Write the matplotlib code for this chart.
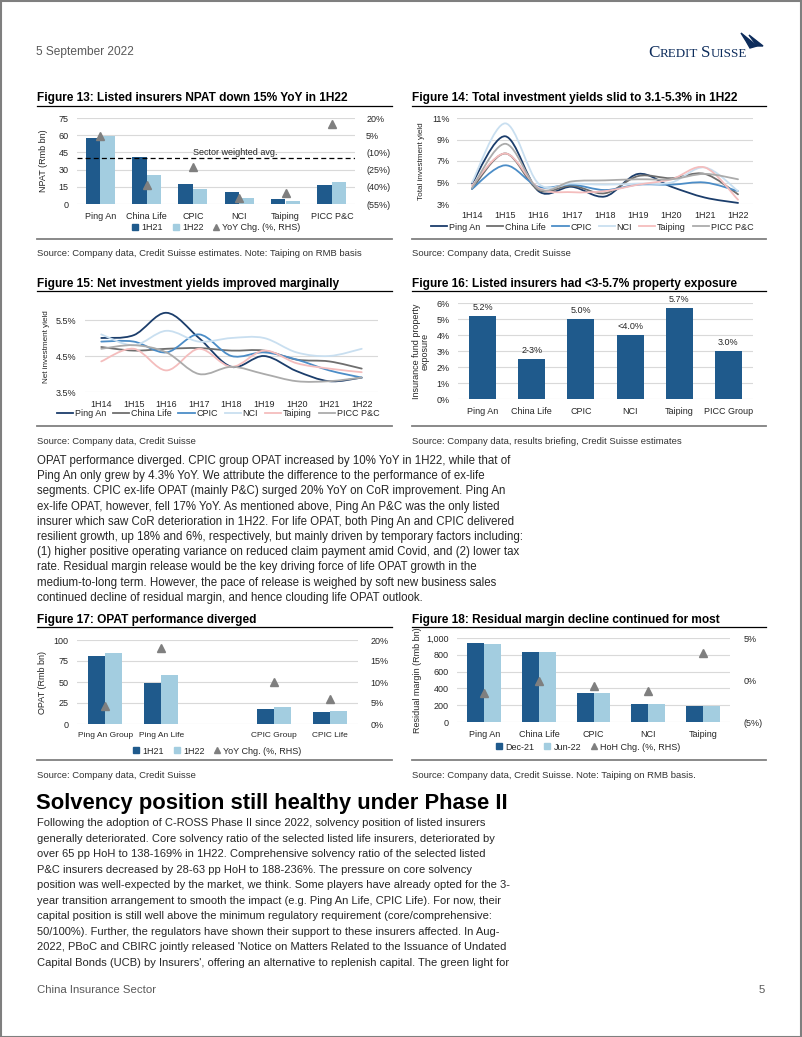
import numpy as np
import matplotlib
matplotlib.use('Agg')
import matplotlib.pyplot as plt
from matplotlib.path import Path
from matplotlib.patches import PathPatch, Rectangle, Polygon
from matplotlib.lines import Line2D
from matplotlib import font_manager as fm

# ---------------- data ----------------
npat_cos = ['Ping An', 'China Life', 'CPIC', 'NCI', 'Taiping', 'PICC P&C']
npat_1h21 = [57.5, 41.0, 17.2, 10.5, 4.3, 16.4]
npat_1h22 = [59.7, 25.3, 13.1, 5.2, 2.2, 19.0]
npat_yoy = [4, -38, -23, -50, -45, 15]
npat_sector_avg = -15

periods = ['1H14', '1H15', '1H16', '1H17', '1H18', '1H19', '1H20', '1H21', '1H22']
series_names = ['Ping An', 'China Life', 'CPIC', 'NCI', 'Taiping', 'PICC P&C']

tiy_pingan = [4.9, 9.3, 4.2, 4.6, 3.7, 5.8, 4.6, 3.6, 3.1]
tiy_chinalife = [4.4, 7.7, 4.3, 4.7, 4.0, 5.6, 5.4, 5.8, 3.9]
tiy_cpic = [4.4, 6.6, 4.6, 4.8, 4.3, 4.8, 4.8, 5.0, 4.2]
tiy_nci = [5.0, 10.5, 4.9, 4.9, 4.8, 4.9, 5.0, 6.4, 4.2]
tiy_taiping = [4.7, 7.7, 4.5, 4.1, 4.2, 4.8, 5.3, 6.4, 3.4]
tiy_picc = [4.5, 8.6, 4.4, 5.1, 5.2, 5.3, 5.3, 5.8, 5.3]

niy_pingan = [5.0, 5.08, 5.7, 5.0, 4.2, 4.5, 4.08, 3.8, 3.9]
niy_chinalife = [4.75, 4.65, 4.7, 4.72, 4.65, 4.65, 4.4, 4.35, 4.15]
niy_cpic = [4.9, 4.9, 4.6, 5.1, 4.5, 4.6, 4.4, 4.1, 3.9]
niy_nci = [5.1, 4.8, 5.2, 4.9, 5.0, 5.0, 4.6, 4.5, 4.7]
niy_taiping = [4.35, 4.7, 4.1, 4.7, 4.2, 4.65, 4.3, 4.15, 4.05]
niy_picc = [4.7, 4.8, 4.6, 4.0, 4.2, 4.0, 3.8, 3.8, 3.9]

prop_cos = ['Ping An', 'China Life', 'CPIC', 'NCI', 'Taiping', 'PICC Group']
prop_vals = [5.2, 2.5, 5.0, 4.0, 5.7, 3.0]
prop_labels = ['5.2%', '2-3%', '5.0%', '<4.0%', '5.7%', '3.0%']

opat_cats = ['Ping An Group', 'Ping An Life', '', 'CPIC Group', 'CPIC Life']
opat_1h21 = [81.0, 49.3, np.nan, 18.3, 14.3]
opat_1h22 = [84.8, 57.9, np.nan, 20.2, 15.1]
opat_yoy = [4.3, 18.0, np.nan, 10.0, 6.0]

rm_cos = ['Ping An', 'China Life', 'CPIC', 'NCI', 'Taiping']
rm_dec21 = [940, 835, 346, 220, 185]
rm_jun22 = [925, 835, 343, 217, 193]
rm_hoh = [-1.6, -0.1, -0.7, -1.3, 3.2]

# ---------------- style ----------------
plt.rcParams['font.family'] = ['Liberation Sans', 'DejaVu Sans']
names = {f.name for f in fm.fontManager.ttflist}
NARROW = 'Liberation Sans Narrow' in names
CF = ['Liberation Sans Narrow', 'Liberation Sans', 'DejaVu Sans'] if NARROW else ['Liberation Sans', 'DejaVu Sans']
CFS = 7.2 if NARROW else 6.5

DARK = '#1F5A8C'
LIGHT = '#A3CDE0'
TRI = '#7F7F7F'
TXT = '#262626'
GRID = '#D9D9D9'
line_colors = ['#1B3D6B', '#6E6E6E', '#4C8DC7', '#C9DFF0', '#F4BDBD', '#ABABAB']

W, H = 802, 1037
fig = plt.figure(figsize=(W / 100, H / 100), dpi=100)


def add_ax(l, t, r, b):
    return fig.add_axes([l / W, 1 - b / H, (r - l) / W, (b - t) / H])


def ftext(x, y, s, **kw):
    return fig.text(x / W, 1 - y / H, s, **kw)


def hline(x0, x1, y, color='black', lw=0.8):
    fig.add_artist(Line2D([x0 / W, x1 / W], [1 - y / H, 1 - y / H], color=color, lw=lw,
                          transform=fig.transFigure))


def style_ax(ax, pad=5):
    for s in ax.spines.values():
        s.set_visible(False)
    ax.tick_params(length=0, labelsize=CFS, labelcolor=TXT, pad=pad)
    for lab in ax.get_xticklabels() + ax.get_yticklabels():
        lab.set_family(CF)
    ax.grid(axis='y', color=GRID, lw=0.8)
    ax.set_axisbelow(True)


def set_fonts(ax):
    for lab in ax.get_xticklabels() + ax.get_yticklabels():
        lab.set_family(CF)
        lab.set_fontsize(CFS)


def smooth_path(xs, ys):
    pts = list(zip(xs, ys))
    n = len(pts)
    verts = [pts[0]]
    codes = [Path.MOVETO]
    for i in range(n - 1):
        p0 = pts[i - 1] if i > 0 else pts[i]
        p1 = pts[i]
        p2 = pts[i + 1]
        p3 = pts[i + 2] if i + 2 < n else pts[i + 1]
        c1 = (p1[0] + (p2[0] - p0[0]) / 6, p1[1] + (p2[1] - p0[1]) / 6)
        c2 = (p2[0] - (p3[0] - p1[0]) / 6, p2[1] - (p3[1] - p1[1]) / 6)
        verts += [c1, c2, p2]
        codes += [Path.CURVE4] * 3
    return Path(verts, codes)


def legend_at(ax, handles, labels, xc, yc, ncol, **kw):
    opts = dict(loc='center', bbox_to_anchor=(xc / W, 1 - yc / H), bbox_transform=fig.transFigure,
                ncol=ncol, frameon=False, prop={'family': CF, 'size': CFS},
                handletextpad=0.2, columnspacing=0.9, borderpad=0, borderaxespad=0)
    opts.update(kw)
    leg = ax.legend(handles, labels, **opts)
    for t in leg.get_texts():
        t.set_color(TXT)
    return leg


def bar_handles(c1, c2):
    return [Line2D([], [], marker='s', ls='none', color=c1, markersize=5),
            Line2D([], [], marker='s', ls='none', color=c2, markersize=5),
            Line2D([], [], marker='^', ls='none', color=TRI, markersize=5)]


TITLE_FS = 8.6
SRC_FS = 6.8
LX0, LX1 = 37, 392
RX0, RX1 = 412, 766


def frame(x0, x1, ytitle, yline, yrule, ysrc, title, src):
    ftext(x0, ytitle, title, fontsize=TITLE_FS, fontweight='bold', va='center', ha='left', color='black')
    hline(x0, x1, yline, color='black', lw=0.9)
    hline(x0, x1, yrule, color='#808080', lw=1.3)
    ftext(x0, ysrc, src, fontsize=SRC_FS, va='center', ha='left', color='#333333')


BAR_LEG = dict(handlelength=0.8, columnspacing=1.0, handletextpad=0.3)
LINE_LEG = dict(handlelength=1.8, columnspacing=0.75, handletextpad=0.2)

# ---------------- Figure 13 ----------------
frame(LX0, LX1, 98, 106, 239, 253, 'Figure 13: Listed insurers NPAT down 15% YoY in 1H22',
      'Source: Company data, Credit Suisse estimates. Note: Taiping on RMB basis')
ax = add_ax(77, 118, 355, 204)
x = np.arange(len(npat_cos))
bw = 0.31
ax.bar(x - bw / 2, npat_1h21, bw, color=DARK)
ax.bar(x + bw / 2, npat_1h22, bw, color=LIGHT)
ax.set_xlim(-0.5, len(npat_cos) - 0.5)
ax.set_ylim(0, 75)
ax.set_yticks(np.arange(0, 76, 15))
ax.set_xticks(x)
ax.set_xticklabels(npat_cos)
style_ax(ax, pad=6)
ax.set_ylabel('NPAT (Rmb bn)', family=CF, fontsize=CFS, color=TXT)
ax.yaxis.set_label_coords((48 - 77) / 278, 0.5)
ax2 = ax.twinx()
ax2.plot(x, npat_yoy, ls='none', marker='^', color=TRI, markersize=5.5)
ax2.axhline(npat_sector_avg, color='black', lw=0.9, ls=(0, (4, 2.5)))
ax2.text(2.92, npat_sector_avg + 1, 'Sector weighted avg.', family=CF, fontsize=CFS, ha='center',
         va='bottom', color=TXT)
ax2.set_ylim(-55, 20)
ax2.set_yticks(np.arange(-55, 21, 15))
ax2.set_yticklabels(['(55%)', '(40%)', '(25%)', '(10%)', '5%', '20%'])
for s in ax2.spines.values():
    s.set_visible(False)
ax2.tick_params(length=0, labelsize=CFS, labelcolor=TXT, pad=8)
set_fonts(ax2)
ax2.set_xlim(-0.5, len(npat_cos) - 0.5)
legend_at(ax2, bar_handles(DARK, LIGHT), ['1H21', '1H22', 'YoY Chg. (%, RHS)'], 216, 228, 3, **BAR_LEG)

# ---------------- Figure 14 ----------------
frame(RX0, RX1, 98, 106, 239, 253, 'Figure 14: Total investment yields slid to 3.1-5.3% in 1H22',
      'Source: Company data, Credit Suisse')
ax = add_ax(457, 118, 753, 204)
xs = np.arange(len(periods))
tiy_all = [tiy_pingan, tiy_chinalife, tiy_cpic, tiy_nci, tiy_taiping, tiy_picc]
for ys, c in zip(tiy_all, line_colors):
    ax.add_patch(PathPatch(smooth_path(xs, ys), fill=False, edgecolor=c, lw=1.3, capstyle='round'))
ax.set_xlim(-0.45, 8.45)
ax.set_ylim(3, 11)
ax.set_yticks([3, 5, 7, 9, 11])
ax.set_yticklabels(['3%', '5%', '7%', '9%', '11%'])
ax.set_xticks(xs)
ax.set_xticklabels(periods)
style_ax(ax, pad=5)
ax.set_ylabel('Total investment yield', family=CF, fontsize=CFS - 0.6, color=TXT)
ax.yaxis.set_label_coords((425 - 457) / 296, 0.5)
lh = [Line2D([], [], color=c, lw=1.3) for c in line_colors]
legend_at(ax, lh, series_names, 592, 227, 6, **LINE_LEG)

# ---------------- Figure 15 ----------------
frame(LX0, LX1, 284, 291, 426, 441, 'Figure 15: Net investment yields improved marginally',
      'Source: Company data, Credit Suisse')
ax = add_ax(85, 302, 378, 392)
niy_all = [niy_pingan, niy_chinalife, niy_cpic, niy_nci, niy_taiping, niy_picc]
for ys, c in zip(niy_all, line_colors):
    ax.add_patch(PathPatch(smooth_path(xs, ys), fill=False, edgecolor=c, lw=1.3, capstyle='round'))
ax.set_xlim(-0.5, 8.5)
ax.set_ylim(3.5, 6.0)
ax.set_yticks([3.5, 4.5, 5.5])
ax.set_yticklabels(['3.5%', '4.5%', '5.5%'])
ax.set_xticks(xs)
ax.set_xticklabels(periods)
style_ax(ax, pad=6)
ax.set_ylabel('Net investment yield', family=CF, fontsize=CFS - 0.6, color=TXT)
ax.yaxis.set_label_coords((50 - 85) / 293, 0.5)
legend_at(ax, lh, series_names, 218, 414, 6, **LINE_LEG)

# ---------------- Figure 16 ----------------
frame(RX0, RX1, 284, 291, 426, 441, 'Figure 16: Listed insurers had <3-5.7% property exposure',
      'Source: Company data, results briefing, Credit Suisse estimates')
ax = add_ax(458, 303, 753, 399)
x = np.arange(len(prop_cos))
ax.bar(x, prop_vals, 0.55, color=DARK)
for xi, v, lbl in zip(x, prop_vals, prop_labels):
    ax.annotate(lbl, (xi, v), xytext=(0, 3), textcoords='offset points', ha='center', va='bottom',
                family=CF, fontsize=CFS, color=TXT)
ax.set_xlim(-0.5, len(prop_cos) - 0.5)
ax.set_ylim(0, 6)
ax.set_yticks(np.arange(0, 7, 1))
ax.set_yticklabels([f'{v}%' for v in range(7)])
ax.set_xticks(x)
ax.set_xticklabels(prop_cos)
style_ax(ax, pad=6)
ax.set_ylabel('Insurance fund property\nexposure', family=CF, fontsize=CFS, color=TXT, linespacing=1.0)
ax.yaxis.set_label_coords((430 - 458) / 295, 0.5)

# ---------------- Figure 17 ----------------
frame(LX0, LX1, 620, 627, 760, 776, 'Figure 17: OPAT performance diverged',
      'Source: Company data, Credit Suisse')
ax = add_ax(77, 640, 358, 724)
x = np.arange(len(opat_cats))
bw = 0.30
ax.bar(x - bw / 2, opat_1h21, bw, color=DARK)
ax.bar(x + bw / 2, opat_1h22, bw, color=LIGHT)
ax.set_xlim(-0.5, len(opat_cats) - 0.5)
ax.set_ylim(0, 100)
ax.set_yticks(np.arange(0, 101, 25))
ax.set_xticks(x)
ax.set_xticklabels(opat_cats)
style_ax(ax, pad=6)
for lab in ax.get_xticklabels():
    lab.set_fontsize(CFS - 0.45)
ax.set_ylabel('OPAT (Rmb bn)', family=CF, fontsize=CFS, color=TXT)
ax.yaxis.set_label_coords((47 - 77) / 281, 0.5)
ax2 = ax.twinx()
ax2.plot(x, opat_yoy, ls='none', marker='^', color=TRI, markersize=5.5)
ax2.set_ylim(0, 20)
ax2.set_yticks(np.arange(0, 21, 5))
ax2.set_yticklabels([f'{v}%' for v in range(0, 21, 5)])
for s in ax2.spines.values():
    s.set_visible(False)
ax2.tick_params(length=0, labelsize=CFS, labelcolor=TXT, pad=9)
set_fonts(ax2)
ax2.set_xlim(-0.5, len(opat_cats) - 0.5)
legend_at(ax2, bar_handles(DARK, LIGHT), ['1H21', '1H22', 'YoY Chg. (%, RHS)'], 217, 751, 3, **BAR_LEG)

# ---------------- Figure 18 ----------------
frame(RX0, RX1, 620, 627, 760, 776, 'Figure 18: Residual margin decline continued for most',
      'Source: Company data, Credit Suisse. Note: Taiping on RMB basis.')
ax = add_ax(457, 638, 730, 722)
x = np.arange(len(rm_cos))
bw = 0.31
ax.bar(x - bw / 2, rm_dec21, bw, color=DARK)
ax.bar(x + bw / 2, rm_jun22, bw, color=LIGHT)
ax.set_xlim(-0.5, len(rm_cos) - 0.5)
ax.set_ylim(0, 1000)
ax.set_yticks(np.arange(0, 1001, 200))
ax.set_yticklabels(['0', '200', '400', '600', '800', '1,000'])
ax.set_xticks(x)
ax.set_xticklabels(rm_cos)
style_ax(ax, pad=6)
ax.set_ylabel('Residual margin (Rmb bn)', family=CF, fontsize=CFS, color=TXT)
ax.yaxis.set_label_coords((422 - 457) / 273, 0.5)
ax2 = ax.twinx()
ax2.plot(x, rm_hoh, ls='none', marker='^', color=TRI, markersize=5.5)
ax2.set_ylim(-5, 5)
ax2.set_yticks([-5, 0, 5])
ax2.set_yticklabels(['(5%)', '0%', '5%'])
for s in ax2.spines.values():
    s.set_visible(False)
ax2.tick_params(length=0, labelsize=CFS, labelcolor=TXT, pad=10)
set_fonts(ax2)
ax2.set_xlim(-0.5, len(rm_cos) - 0.5)
legend_at(ax2, bar_handles(DARK, LIGHT), ['Dec-21', 'Jun-22', 'HoH Chg. (%, RHS)'], 588, 747, 3, **BAR_LEG)

# ---------------- page text ----------------
para1 = [
    "OPAT performance diverged. CPIC group OPAT increased by 10% YoY in 1H22, while that of",
    "Ping An only grew by 4.3% YoY. We attribute the difference to the performance of ex-life",
    "segments. CPIC ex-life OPAT (mainly P&C) surged 20% YoY on CoR improvement. Ping An",
    "ex-life OPAT, however, fell 17% YoY. As mentioned above, Ping An P&C was the only listed",
    "insurer which saw CoR deterioration in 1H22. For life OPAT, both Ping An and CPIC delivered",
    "resilient growth, up 18% and 6%, respectively, but mainly driven by temporary factors including:",
    "(1) higher positive operating variance on reduced claim payment amid Covid, and (2) lower tax",
    "rate. Residual margin release would be the key driving force of life OPAT growth in the",
    "medium-to-long term. However, the pace of release is weighed by soft new business sales",
    "continued decline of residual margin, and hence clouding life OPAT outlook.",
]
for i, line in enumerate(para1):
    ftext(37, 461 + i * 15.2, line, fontsize=8.3, va='center', ha='left', color=TXT,
          family=CF)

ftext(36, 803, 'Solvency position still healthy under Phase II', fontsize=15.8, fontweight='bold',
      va='center', ha='left', color='black')

para2 = [
    "Following the adoption of C-ROSS Phase II since 2022, solvency position of listed insurers",
    "generally deteriorated. Core solvency ratio of the selected listed life insurers, deteriorated by",
    "over 65 pp HoH to 138-169% in 1H22. Comprehensive solvency ratio of the selected listed",
    "P&C insurers decreased by 28-63 pp HoH to 188-236%. The pressure on core solvency",
    "position was well-expected by the market, we think. Some players have already opted for the 3-",
    "year transition arrangement to smooth the impact (e.g. Ping An Life, CPIC Life). For now, their",
    "capital position is still well above the minimum regulatory requirement (core/comprehensive:",
    "50/100%). Further, the regulators have shown their support to these insurers affected. In Aug-",
    "2022, PBoC and CBIRC jointly released 'Notice on Matters Related to the Issuance of Undated",
    "Capital Bonds (UCB) by Insurers', offering an alternative to replenish capital. The green light for",
]
for i, line in enumerate(para2):
    ftext(37, 823.5 + i * 15.45, line, fontsize=8.0, va='center', ha='left', color=TXT)

# header / footer
ftext(36, 52, '5 September 2022', fontsize=8.6, va='center', ha='left', color='#595959', family=CF)
ftext(37, 990, 'China Insurance Sector', fontsize=8.2, va='center', ha='left', color='#595959',
      family=CF)
ftext(765, 990, '5', fontsize=8.2, va='center', ha='right', color='#595959', family=CF)

# Credit Suisse logo (small caps text + sail)
NAVY = '#0E2D5C'
fig.canvas.draw()
r = fig.canvas.get_renderer()
xcur = 648
for s, fs in [('C', 12.3), ('REDIT', 9.4), (' ', 9.4), ('S', 12.3), ('UISSE', 9.4)]:
    t = ftext(xcur, 57, s, fontsize=fs, va='baseline', ha='left', color=NAVY,
              family=['Liberation Serif', 'DejaVu Serif'])
    bb = t.get_window_extent(renderer=r)
    xcur += bb.width
sail1 = [(741, 33), (757, 46), (750, 48), (746, 41)]
sail2 = [(749, 35), (763, 46), (757, 46)]
for pts in (sail1, sail2):
    fig.add_artist(Polygon([(px / W, 1 - py / H) for px, py in pts], closed=True, color=NAVY,
                           transform=fig.transFigure))

# page border
fig.add_artist(Rectangle((0.5 / W, 0.5 / H), (W - 1.5) / W, (H - 1.5) / H, fill=False,
                         edgecolor='#7F7F7F', lw=1.5, transform=fig.transFigure))

fig.savefig('out.png', dpi=100)
